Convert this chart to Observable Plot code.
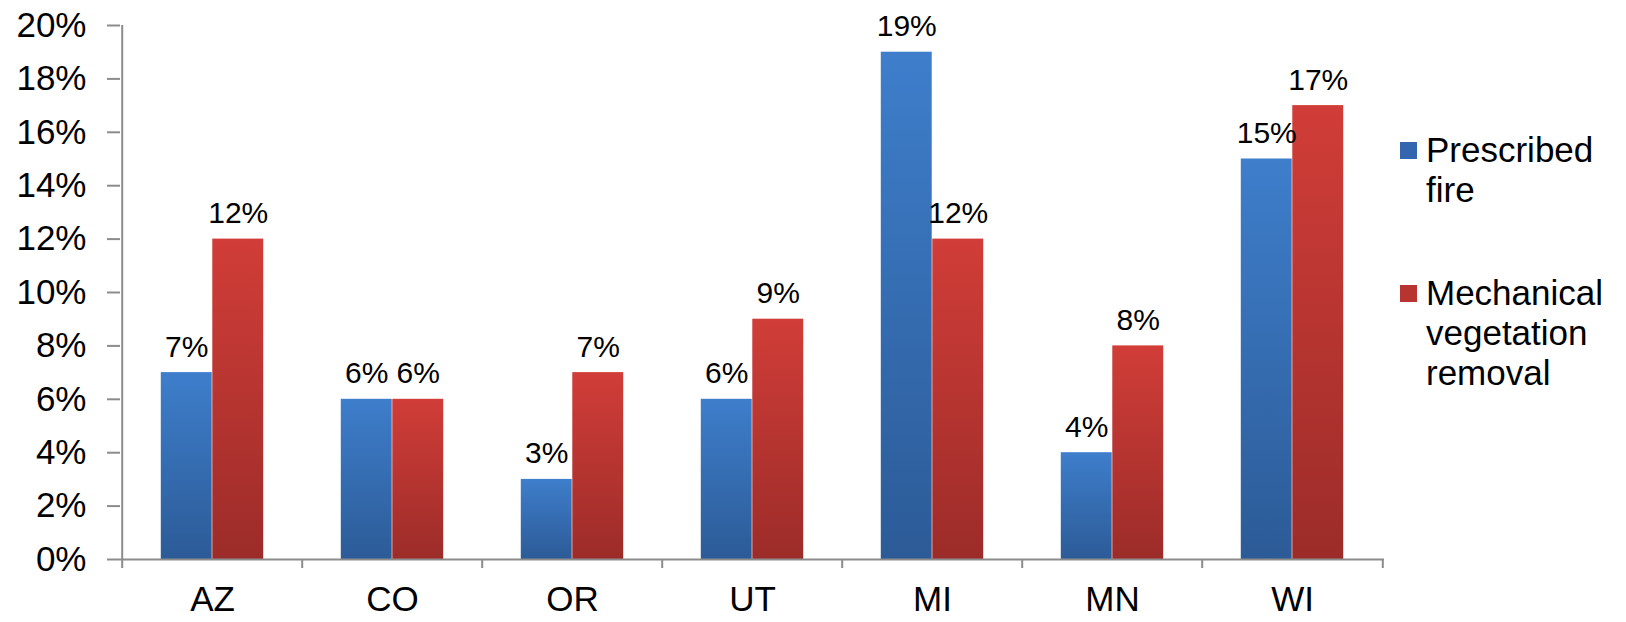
<!DOCTYPE html>
<html>
<head>
<meta charset="utf-8">
<script src="https://cdn.jsdelivr.net/npm/d3@7"></script>
<script src="https://cdn.jsdelivr.net/npm/@observablehq/plot@0.6"></script>
<style>
  html, body { margin: 0; padding: 0; background: #fff; }
  #wrap { position: relative; width: 1626px; height: 622px; font-family: "Liberation Sans", Arial, sans-serif; }
  .leg { position: absolute; left: 1400px; font-size: 35px; line-height: 40px; color: #000; }
  .leg .sw { position: absolute; left: 0; top: 12px; width: 17px; height: 17px; }
  .leg .tx { position: absolute; left: 26px; top: 0; white-space: nowrap; }
</style>
</head>
<body>
<div id="wrap"></div>
<script>
const categories = ["AZ", "CO", "OR", "UT", "MI", "MN", "WI"];
const seriesNames = ["Prescribed fire", "Mechanical vegetation removal"];
const prescribedFire = [7, 6, 3, 6, 19, 4, 15];
const mechanicalRemoval = [12, 6, 7, 9, 12, 8, 17];
const yTicks = [0, 2, 4, 6, 8, 10, 12, 14, 16, 18, 20];

const W = 1626, H = 622;
const mL = 120, mR = 242, mT = 25, mB = 63;
const step = (W - mL - mR) / categories.length;
const barW = 51.5;
const outer = step / 2 - barW;
const pxPerUnit = (H - mT - mB) / 20;

const rows = [];
categories.forEach((c, i) => {
  rows.push({cat: c, series: seriesNames[0], value: prescribedFire[i], k: 0});
  rows.push({cat: c, series: seriesNames[1], value: mechanicalRemoval[i], k: 1});
});
const blue = rows.filter(d => d.k === 0);
const red = rows.filter(d => d.k === 1);

const axisColor = "#8c8c8c";

const plot = Plot.plot({
  width: W, height: H,
  marginLeft: mL, marginRight: mR, marginTop: mT, marginBottom: mB,
  style: {fontFamily: "'Liberation Sans', Arial, sans-serif", background: "#fff", color: "#000"},
  x: {domain: categories, padding: 0, axis: null},
  y: {domain: [0, 20], axis: null},
  marks: [
    Plot.barY(blue, {x: "cat", y: "value", fill: "url(#gBlue)", insetLeft: outer, insetRight: step / 2}),
    Plot.barY(red, {x: "cat", y: "value", fill: "url(#gRed)", insetLeft: step / 2, insetRight: outer}),
    // y axis
    Plot.axisY({ticks: yTicks, tickFormat: d => d + "%", label: null, tickSize: 13, tickPadding: 21, fontSize: 35, stroke: axisColor, strokeWidth: 2, fill: "#000"}),
    Plot.ruleX([categories[0]], {x: d => d, dx: -step / 2, y1: -9 / pxPerUnit, y2: 20, stroke: axisColor, strokeWidth: 2}),
    Plot.ruleY([0], {stroke: axisColor, strokeWidth: 2}),
    // category boundary ticks
    Plot.ruleX(categories.slice(1), {x: d => d, dx: -step / 2, y1: -9 / pxPerUnit, y2: 0, stroke: axisColor, strokeWidth: 2}),
    Plot.ruleX([categories[categories.length - 1]], {x: d => d, dx: step / 2, y1: -9 / pxPerUnit, y2: 0, stroke: axisColor, strokeWidth: 2}),
    // category labels
    Plot.text(categories, {x: d => d, y: 0, dy: 40, text: d => d, fontSize: 35, lineAnchor: "middle", fill: "#000"}),
    // data labels
    Plot.text(blue, {x: "cat", y: "value", text: d => d.value + "%", dx: -barW / 2, dy: -16, lineAnchor: "bottom", fontSize: 30, fill: "#000"}),
    Plot.text(red, {x: "cat", y: "value", text: d => d.value + "%", dx: barW / 2, dy: -16, lineAnchor: "bottom", fontSize: 30, fill: "#000"})
  ]
});

// gradients
const ns = "http://www.w3.org/2000/svg";
const defs = document.createElementNS(ns, "defs");
function grad(id, stops) {
  const g = document.createElementNS(ns, "linearGradient");
  g.setAttribute("id", id);
  g.setAttribute("x1", "0"); g.setAttribute("y1", "0");
  g.setAttribute("x2", "0"); g.setAttribute("y2", "1");
  stops.forEach(([o, c]) => {
    const s = document.createElementNS(ns, "stop");
    s.setAttribute("offset", o); s.setAttribute("stop-color", c);
    g.appendChild(s);
  });
  defs.appendChild(g);
}
grad("gBlue", [[0, "#3e7ecb"], [1, "#2c5b97"]]);
grad("gRed", [[0, "#d13d38"], [1, "#9c2c29"]]);
plot.insertBefore(defs, plot.firstChild);

const wrap = document.getElementById("wrap");
wrap.appendChild(plot);

// legend
const legendColors = ["#3466b0", "#b73431"];
const legendLines = [["Prescribed", "fire"], ["Mechanical", "vegetation", "removal"]];
const legendTops = [130, 273];
seriesNames.forEach((s, i) => {
  const d = document.createElement("div");
  d.className = "leg";
  d.style.top = legendTops[i] + "px";
  d.innerHTML = `<div class="sw" style="background:${legendColors[i]}"></div><div class="tx">${legendLines[i].join("<br>")}</div>`;
  wrap.appendChild(d);
});
</script>
</body>
</html>
